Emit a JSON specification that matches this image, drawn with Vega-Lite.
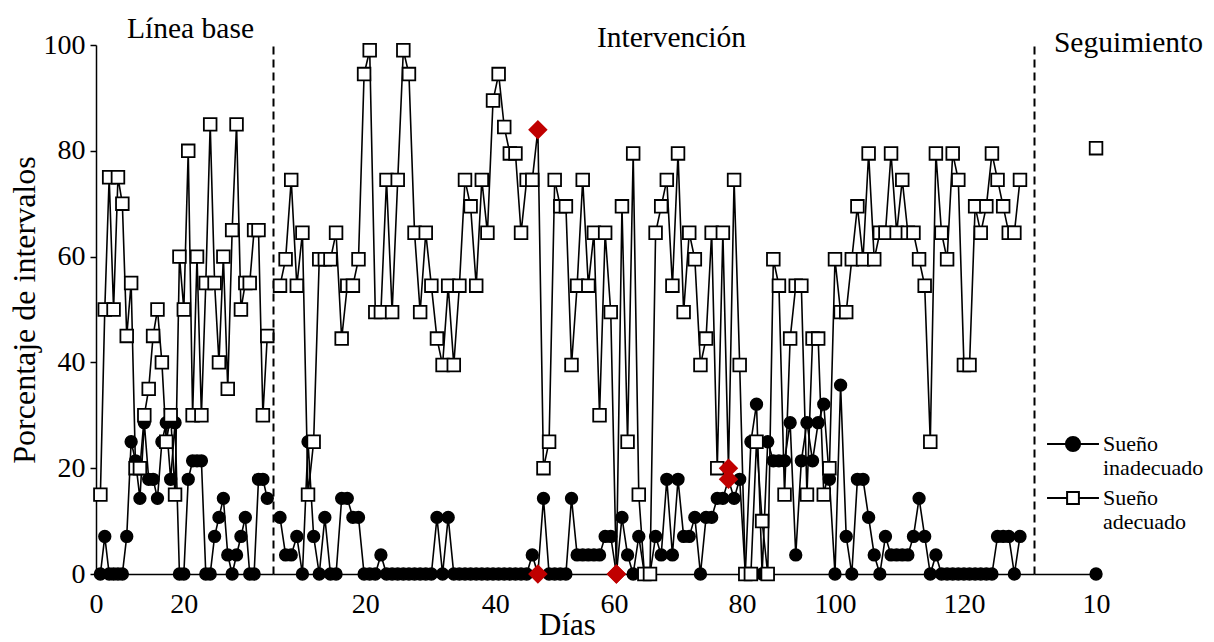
{
  "$schema": "https://vega.github.io/schema/vega-lite/v6.json",
  "background": "white",
  "padding": {"left": 8, "top": 13, "right": 5, "bottom": 0},
  "bounds": "flush",
  "spacing": 0,
  "config": {
    "view": {"stroke": null},
    "font": "Liberation Serif",
    "axis": {"labelFont": "Liberation Serif", "titleFont": "Liberation Serif", "labelColor": "black", "titleColor": "black", "domainColor": "black", "tickColor": "black", "grid": false, "titleFontWeight": "normal"},
    "title": {"font": "Liberation Serif", "fontSize": 29.5, "fontWeight": "normal", "color": "black"},
    "legend": {"labelFont": "Liberation Serif", "labelColor": "black"}
  },
  "datasets": {
    "base": [
      {"d":1,"ina":0,"ade":15},{"d":2,"ina":7.1,"ade":50},{"d":3,"ina":0,"ade":75},{"d":4,"ina":0,"ade":50},{"d":5,"ina":0,"ade":75},
      {"d":6,"ina":0,"ade":70},{"d":7,"ina":7.1,"ade":45},{"d":8,"ina":25,"ade":55},{"d":9,"ina":21.4,"ade":20},{"d":10,"ina":14.3,"ade":20},
      {"d":11,"ina":28.6,"ade":30},{"d":12,"ina":17.9,"ade":35},{"d":13,"ina":17.9,"ade":45},{"d":14,"ina":14.3,"ade":50},{"d":15,"ina":25,"ade":40},
      {"d":16,"ina":28.6,"ade":25},{"d":17,"ina":17.9,"ade":30},{"d":18,"ina":28.6,"ade":15},{"d":19,"ina":0,"ade":60},{"d":20,"ina":0,"ade":50},
      {"d":21,"ina":17.9,"ade":80},{"d":22,"ina":21.4,"ade":30},{"d":23,"ina":21.4,"ade":60},{"d":24,"ina":21.4,"ade":30},{"d":25,"ina":0,"ade":55},
      {"d":26,"ina":0,"ade":85},{"d":27,"ina":7.1,"ade":55},{"d":28,"ina":10.7,"ade":40},{"d":29,"ina":14.3,"ade":60},{"d":30,"ina":3.6,"ade":35},
      {"d":31,"ina":0,"ade":65},{"d":32,"ina":3.6,"ade":85},{"d":33,"ina":7.1,"ade":50},{"d":34,"ina":10.7,"ade":55},{"d":35,"ina":0,"ade":55},
      {"d":36,"ina":0,"ade":65},{"d":37,"ina":17.9,"ade":65},{"d":38,"ina":17.9,"ade":30},{"d":39,"ina":14.3,"ade":45}
    ],
    "interv": [
      {"d":1,"ina":10.7,"ade":54.5},{"d":2,"ina":3.6,"ade":59.5},{"d":3,"ina":3.6,"ade":74.5},{"d":4,"ina":7.1,"ade":54.5},{"d":5,"ina":0,"ade":64.5},
      {"d":6,"ina":25,"ade":15},{"d":7,"ina":7.1,"ade":25},{"d":8,"ina":0,"ade":59.5},{"d":9,"ina":10.7,"ade":59.5},{"d":10,"ina":0,"ade":59.5},
      {"d":11,"ina":0,"ade":64.5},{"d":12,"ina":14.3,"ade":44.5},{"d":13,"ina":14.3,"ade":54.5},{"d":14,"ina":10.7,"ade":54.5},{"d":15,"ina":10.7,"ade":59.5},
      {"d":16,"ina":0,"ade":94.5},{"d":17,"ina":0,"ade":99},{"d":18,"ina":0,"ade":49.5},{"d":19,"ina":3.6,"ade":49.5},{"d":20,"ina":0,"ade":74.5},
      {"d":21,"ina":0,"ade":49.5},{"d":22,"ina":0,"ade":74.5},{"d":23,"ina":0,"ade":99},{"d":24,"ina":0,"ade":94.5},{"d":25,"ina":0,"ade":64.5},
      {"d":26,"ina":0,"ade":49.5},{"d":27,"ina":0,"ade":64.5},{"d":28,"ina":0,"ade":54.5},{"d":29,"ina":10.7,"ade":44.5},{"d":30,"ina":0,"ade":39.5},
      {"d":31,"ina":10.7,"ade":54.5},{"d":32,"ina":0,"ade":39.5},{"d":33,"ina":0,"ade":54.5},{"d":34,"ina":0,"ade":74.5},{"d":35,"ina":0,"ade":69.5},
      {"d":36,"ina":0,"ade":54.5},{"d":37,"ina":0,"ade":74.5},{"d":38,"ina":0,"ade":64.5},{"d":39,"ina":0,"ade":89.5},{"d":40,"ina":0,"ade":94.5},
      {"d":41,"ina":0,"ade":84.5},{"d":42,"ina":0,"ade":79.5},{"d":43,"ina":0,"ade":79.5},{"d":44,"ina":0,"ade":64.5},{"d":45,"ina":0,"ade":74.5},
      {"d":46,"ina":3.6,"ade":74.5},{"d":47,"ina":0,"ade":84,"h":1},{"d":48,"ina":14.3,"ade":20},{"d":49,"ina":0,"ade":25},{"d":50,"ina":0,"ade":74.5},
      {"d":51,"ina":0,"ade":69.5},{"d":52,"ina":0,"ade":69.5},{"d":53,"ina":14.3,"ade":39.5},{"d":54,"ina":3.6,"ade":54.5},{"d":55,"ina":3.6,"ade":74.5},
      {"d":56,"ina":3.6,"ade":54.5},{"d":57,"ina":3.6,"ade":64.5},{"d":58,"ina":3.6,"ade":30},{"d":59,"ina":7.1,"ade":64.5},{"d":60,"ina":7.1,"ade":49.5},
      {"d":61,"ina":0,"ade":0,"h":1},{"d":62,"ina":10.7,"ade":69.5},{"d":63,"ina":3.6,"ade":25},{"d":64,"ina":0,"ade":79.5},{"d":65,"ina":7.1,"ade":15},
      {"d":66,"ina":0,"ade":0},{"d":67,"ina":0,"ade":0},{"d":68,"ina":7.1,"ade":64.5},{"d":69,"ina":3.6,"ade":69.5},{"d":70,"ina":17.9,"ade":74.5},
      {"d":71,"ina":3.6,"ade":54.5},{"d":72,"ina":17.9,"ade":79.5},{"d":73,"ina":7.1,"ade":49.5},{"d":74,"ina":7.1,"ade":64.5},{"d":75,"ina":10.7,"ade":59.5},
      {"d":76,"ina":0,"ade":39.5},{"d":77,"ina":10.7,"ade":44.5},{"d":78,"ina":10.7,"ade":64.5},{"d":79,"ina":14.3,"ade":20},{"d":80,"ina":14.3,"ade":64.5},
      {"d":81,"ina":17.9,"ade":20,"h":1},{"d":82,"ina":14.3,"ade":74.5},{"d":83,"ina":17.9,"ade":39.5},{"d":84,"ina":0,"ade":0},{"d":85,"ina":25,"ade":0},
      {"d":86,"ina":32.1,"ade":25},{"d":87,"ina":0,"ade":10},{"d":88,"ina":25,"ade":0},{"d":89,"ina":21.4,"ade":59.5},{"d":90,"ina":21.4,"ade":54.5},
      {"d":91,"ina":21.4,"ade":15},{"d":92,"ina":28.6,"ade":44.5},{"d":93,"ina":3.6,"ade":54.5},{"d":94,"ina":21.4,"ade":54.5},{"d":95,"ina":28.6,"ade":15},
      {"d":96,"ina":21.4,"ade":44.5},{"d":97,"ina":28.6,"ade":44.5},{"d":98,"ina":32.1,"ade":15},{"d":99,"ina":17.9,"ade":20},{"d":100,"ina":0,"ade":59.5},
      {"d":101,"ina":35.7,"ade":49.5},{"d":102,"ina":7.1,"ade":49.5},{"d":103,"ina":0,"ade":59.5},{"d":104,"ina":17.9,"ade":69.5},{"d":105,"ina":17.9,"ade":59.5},
      {"d":106,"ina":10.7,"ade":79.5},{"d":107,"ina":3.6,"ade":59.5},{"d":108,"ina":0,"ade":64.5},{"d":109,"ina":7.1,"ade":64.5},{"d":110,"ina":3.6,"ade":79.5},
      {"d":111,"ina":3.6,"ade":64.5},{"d":112,"ina":3.6,"ade":74.5},{"d":113,"ina":3.6,"ade":64.5},{"d":114,"ina":7.1,"ade":64.5},{"d":115,"ina":14.3,"ade":59.5},
      {"d":116,"ina":7.1,"ade":54.5},{"d":117,"ina":0,"ade":25},{"d":118,"ina":3.6,"ade":79.5},{"d":119,"ina":0,"ade":64.5},{"d":120,"ina":0,"ade":59.5},
      {"d":121,"ina":0,"ade":79.5},{"d":122,"ina":0,"ade":74.5},{"d":123,"ina":0,"ade":39.5},{"d":124,"ina":0,"ade":39.5},{"d":125,"ina":0,"ade":69.5},
      {"d":126,"ina":0,"ade":64.5},{"d":127,"ina":0,"ade":69.5},{"d":128,"ina":0,"ade":79.5},{"d":129,"ina":7.1,"ade":74.5},{"d":130,"ina":7.1,"ade":69.5},
      {"d":131,"ina":7.1,"ade":64.5},{"d":132,"ina":0,"ade":64.5},{"d":133,"ina":7.1,"ade":74.5}
    ],
    "seg": [
      {"d":10,"ina":0,"ade":80.5}
    ]
  },
  "hconcat": [
    {
      "width": 177,
      "height": 529,
      "title": {"text": "Línea base", "dx": 6, "offset": -13, "frame": "group"},
      "data": {"name": "base"},
      "transform": [{"fold": ["ina", "ade"], "as": ["serie", "valor"]}],
      "encoding": {
        "x": {"field": "d", "type": "quantitative", "scale": {"domain": [0, 40.3], "nice": false, "zero": false},
              "axis": {"values": [0, 20], "ticks": false, "labelFontSize": 28, "labelPadding": 16, "domainWidth": 1.5, "title": null, "labelFlush": false}},
        "y": {"field": "valor", "type": "quantitative", "scale": {"domain": [0, 100], "nice": false},
              "axis": {"values": [0, 20, 40, 60, 80, 100], "title": "Porcentaje de intervalos", "titleFontSize": 32, "titlePadding": 2, "labelFontSize": 28, "labelPadding": 5, "tickSize": 6, "tickWidth": 1.5, "domainWidth": 1.5}}
      },
      "layer": [
        {"transform": [{"filter": "datum.serie === 'ina'"}],
         "mark": {"type": "line", "color": "black", "strokeWidth": 1.6}},
        {"transform": [{"filter": "datum.serie === 'ina'"}],
         "mark": {"type": "point", "shape": "circle", "filled": true, "fill": "black", "stroke": "black", "strokeWidth": 1.5, "size": 140, "opacity": 1}},
        {"transform": [{"filter": "datum.serie === 'ade'"}],
         "mark": {"type": "line", "color": "black", "strokeWidth": 1.6}},
        {"transform": [{"filter": "datum.serie === 'ade'"}],
         "mark": {"type": "point", "shape": "square", "filled": true, "fill": "white", "stroke": "black", "strokeWidth": 1.8, "size": 160, "opacity": 1}},
        {"transform": [{"filter": "datum.d < 0"}],
         "mark": {"type": "point", "filled": true, "opacity": 1},
         "encoding": {
           "shape": {"field": "serie", "type": "nominal",
             "scale": {"domain": ["ina", "ade"], "range": ["M-2.2,0H2.2M0.6,0A0.6,0.6,0,1,1,-0.6,0A0.6,0.6,0,1,1,0.6,0Z", "M-2.2,0H-0.5M0.5,0H2.2M-0.5,-0.5H0.5V0.5H-0.5Z"]},
             "legend": {"orient": "none", "legendX": 964, "legendY": 386, "title": null, "padding": 0,
               "symbolSize": 557, "symbolStrokeWidth": 2, "symbolStrokeColor": "black", "symbolOpacity": 1,
               "labelFontSize": 22, "labelOffset": 17, "rowPadding": 6,
               "labelExpr": "datum.value === 'ina' ? ['Sueño', 'inadecuado'] : ['Sueño', 'adecuado']"}},
           "fill": {"field": "serie", "type": "nominal", "scale": {"domain": ["ina", "ade"], "range": ["black", "white"]}},
           "stroke": {"field": "serie", "type": "nominal", "scale": {"domain": ["ina", "ade"], "range": ["black", "black"]}}
         }}
      ]
    },
    {
      "width": 761,
      "height": 529,
      "title": {"text": "Intervención", "dx": 18, "offset": -13, "frame": "group"},
      "data": {"name": "interv"},
      "transform": [{"fold": ["ina", "ade"], "as": ["serie", "valor"]}],
      "encoding": {
        "x": {"field": "d", "type": "quantitative", "scale": {"domain": [-0.25, 135.5], "nice": false, "zero": false},
              "axis": {"values": [16.2, 39.4, 60.6, 83.4, 100, 123], "labelExpr": "datum.value < 30 ? '20' : datum.value < 50 ? '40' : datum.value < 70 ? '60' : datum.value < 90 ? '80' : datum.value < 110 ? '100' : '120'",
                       "ticks": false, "labelFontSize": 28, "labelPadding": 16, "domainWidth": 1.5, "labelFlush": false,
                       "title": "Días", "titleFontSize": 31, "titleX": 294, "titleY": 60, "titleBaseline": "alphabetic", "titleAlign": "center"}},
        "y": {"field": "valor", "type": "quantitative", "scale": {"domain": [0, 100], "nice": false},
              "axis": {"orient": "left", "labels": false, "ticks": false, "title": null, "domainDash": [8, 5], "domainWidth": 2}}
      },
      "layer": [
        {"transform": [{"filter": "datum.serie === 'ina'"}],
         "mark": {"type": "line", "color": "black", "strokeWidth": 1.6}},
        {"transform": [{"filter": "datum.serie === 'ina' && !datum.h"}],
         "mark": {"type": "point", "shape": "circle", "filled": true, "fill": "black", "stroke": "black", "strokeWidth": 1.5, "size": 140, "opacity": 1}},
        {"transform": [{"filter": "datum.serie === 'ade'"}],
         "mark": {"type": "line", "color": "black", "strokeWidth": 1.6}},
        {"transform": [{"filter": "datum.serie === 'ade' && !datum.h"}],
         "mark": {"type": "point", "shape": "square", "filled": true, "fill": "white", "stroke": "black", "strokeWidth": 1.8, "size": 160, "opacity": 1}},
        {"transform": [{"filter": "datum.h"}],
         "mark": {"type": "point", "shape": "diamond", "filled": true, "fill": "#C00000", "strokeWidth": 0, "size": 380, "opacity": 1}}
      ]
    },
    {
      "width": 65,
      "height": 529,
      "title": {"text": "Seguimiento", "dx": 62, "offset": -13, "frame": "group"},
      "data": {"name": "seg"},
      "transform": [{"fold": ["ina", "ade"], "as": ["serie", "valor"]}],
      "encoding": {
        "x": {"field": "d", "type": "quantitative", "scale": {"domain": [-0.5, 10.5], "nice": false, "zero": false},
              "axis": {"values": [10], "ticks": false, "labelFontSize": 28, "labelPadding": 16, "domainWidth": 1.5, "title": null, "labelFlush": false}},
        "y": {"field": "valor", "type": "quantitative", "scale": {"domain": [0, 100], "nice": false},
              "axis": {"orient": "left", "labels": false, "ticks": false, "title": null, "domainDash": [8, 5], "domainWidth": 2}}
      },
      "layer": [
        {"transform": [{"filter": "datum.serie === 'ina'"}],
         "mark": {"type": "point", "shape": "circle", "filled": true, "fill": "black", "stroke": "black", "strokeWidth": 1.5, "size": 140, "opacity": 1}},
        {"transform": [{"filter": "datum.serie === 'ade'"}],
         "mark": {"type": "point", "shape": "square", "filled": true, "fill": "white", "stroke": "black", "strokeWidth": 1.8, "size": 160, "opacity": 1}}
      ]
    }
  ]
}
